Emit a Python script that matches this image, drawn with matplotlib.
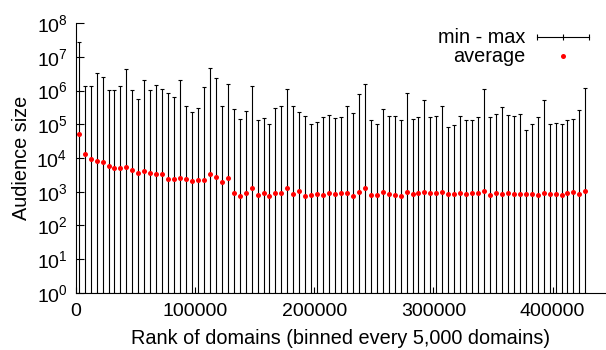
import numpy as np
import matplotlib
matplotlib.use("Agg")
import matplotlib.pyplot as plt
from matplotlib.lines import Line2D
from matplotlib.legend_handler import HandlerLine2D

plt.rcParams["font.family"] = ["Liberation Sans", "DejaVu Sans"]
plt.rcParams["mathtext.fontset"] = "custom"
plt.rcParams["mathtext.rm"] = "Liberation Sans"
plt.rcParams["mathtext.it"] = "Liberation Sans:italic"

# bins of 5,000 domains, plotted at the bin centre
bin_width = 5000
n_bins = 86
rank = np.arange(n_bins) * bin_width + bin_width / 2

# average audience size per bin
avg_size = [
    50000, 12900, 9300, 8100, 7400, 5900, 5000, 5000, 5400, 4300,
    3500, 4000, 3600, 3300, 3300, 2400, 2400, 2600, 2400, 2100,
    2300, 2300, 3300, 2700, 1950, 2500, 950, 760, 910, 1300,
    790, 930, 760, 950, 950, 1290, 850, 1020, 760, 810,
    850, 790, 910, 850, 910, 910, 740, 1000, 1260, 810,
    810, 980, 850, 780, 740, 980, 870, 910, 1000, 930,
    890, 1000, 830, 830, 910, 830, 910, 930, 1070, 790,
    910, 870, 890, 870, 870, 830, 830, 810, 910, 830,
    830, 790, 890, 980, 850, 1070,
]

# maximum audience size per bin
max_size = [
    2.8e7, 1.4e6, 1.4e6, 3.4e6, 2.5e6, 1.05e6, 1.05e6, 1.4e6, 4.4e6, 1.05e6,
    5.7e5, 2.0e6, 1.05e6, 1.5e6, 1.15e6, 8.7e5, 6.3e5, 2.0e6, 3.6e5, 2.3e5,
    3.0e5, 1.3e6, 4.6e6, 2.3e6, 3.4e5, 1.6e6, 2.9e5, 1.4e5, 2.4e5, 1.4e6,
    1.3e5, 1.5e5, 1.0e5, 3.1e5, 3.4e5, 1.15e6, 3.4e5, 2.3e5, 1.8e5, 1.0e5,
    1.2e5, 1.7e5, 1.9e5, 1.5e5, 1.7e5, 3.6e5, 2.2e5, 7.7e5, 1.6e6, 1.3e5,
    1.05e5, 2.9e5, 1.8e5, 1.8e5, 1.3e5, 8.5e5, 1.4e5, 1.6e5, 5.4e5, 1.7e5,
    1.8e5, 3.4e5, 8.6e4, 9.3e4, 1.8e5, 1.3e5, 1.35e5, 1.7e5, 1.1e6, 1.6e5,
    2.0e5, 3.2e5, 1.85e5, 1.8e5, 2.0e5, 6.6e4, 1.05e5, 1.6e5, 5.2e5, 1.0e5,
    1.1e5, 1.0e5, 1.3e5, 1.4e5, 2.6e5, 1.2e6,
]

# minimum audience size per bin (always 1)
min_size = [1] * n_bins

avg = np.array(avg_size, dtype=float)
lo = avg - np.array(min_size, dtype=float)
hi = np.array(max_size) - avg

fig = plt.figure(figsize=(6.06, 3.5), dpi=100, facecolor="white")
ax = fig.add_axes([0.125, 0.163, 0.875, 0.771])

ax.errorbar(rank, avg, yerr=[lo, hi], fmt="none", ecolor="black",
            elinewidth=0.8, capsize=1.6, capthick=0.8, zorder=2)
ax.plot(rank, avg, "o", color="#ff0000", ms=3.6, mew=0, zorder=3)

ax.set_yscale("log")
ax.set_ylim(1, 1e8)
ax.set_xlim(0, 444800)
ax.set_xticks([0, 100000, 200000, 300000, 400000])
ax.set_xticklabels(["0", "100000", "200000", "300000", "400000"])
ax.set_yticks([10.0 ** k for k in range(9)])

ax.tick_params(which="both", direction="in", labelsize=14)
ax.tick_params(axis="x", which="major", length=4, pad=7)
ax.tick_params(axis="y", which="major", length=6, pad=6)
ax.tick_params(axis="y", which="minor", length=3)
ax.spines[["top", "right"]].set_visible(False)

ax.set_xlabel("Rank of domains (binned every 5,000 domains)", fontsize=14.3,
              labelpad=7)
ax.set_ylabel("Audience size", fontsize=14.3, labelpad=4)

h_err = Line2D([], [], color="black", lw=0.8, marker="|", ms=4, mew=0.8)
h_avg = Line2D([], [], color="#ff0000", ls="none", marker="o", ms=3.6, mew=0)
ax.legend([h_err, h_avg], ["min - max", "average"],
          handler_map={h_err: HandlerLine2D(numpoints=3),
                       h_avg: HandlerLine2D(numpoints=1)},
          loc="upper right", bbox_to_anchor=(0.979, 0.98), frameon=False,
          markerfirst=False, fontsize=14.3, handlelength=3.2,
          handletextpad=0.3, labelspacing=0.0, borderpad=0, borderaxespad=0)

plt.savefig("out.png", dpi=100)
plt.close(fig)
